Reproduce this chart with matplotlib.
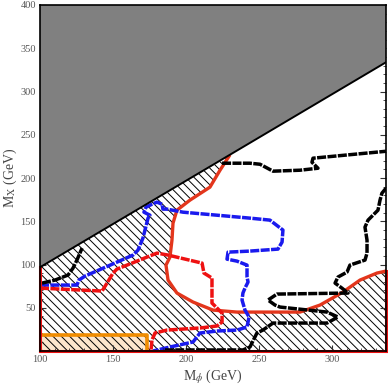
import matplotlib
matplotlib.use("Agg")
import matplotlib.pyplot as plt
from matplotlib.patches import Polygon
from matplotlib.ticker import MultipleLocator
import numpy as np

plt.rcParams['font.family'] = ['Liberation Serif', 'DejaVu Serif']
plt.rcParams['mathtext.fontset'] = 'stix'
plt.rcParams['hatch.linewidth'] = 0.7

# axis ranges
x_min, x_max = 100, 337
y_min, y_max = 0, 400
# kinematic boundary  M_X = M_phi - offset
boundary_offset = 3.2

# hatched (excluded) region upper boundary (red solid)
red_solid_x = [229.5, 223.3, 216.4, 202.7, 193.8, 191.1, 190.4, 189.0, 186.3, 187.7,
               193.8, 204.8, 218.5, 234.9, 278.1, 291.8, 307.5, 319.2, 330.8, 337.0]
red_solid_y = [225.2, 209.0, 189.4, 174.4, 162.8, 147.8, 128.2, 108.5, 99.3, 82.0,
               67.0, 56.6, 47.3, 45.0, 45.0, 53.1, 68.1, 82.0, 90.1, 92.4]

# blue dashed contour
blue_x = [100, 125.3, 126.7, 130.8, 146.6, 163.7, 167.1, 170.5, 174.0, 175.3, 171.2, 172.6,
          176.7, 180.1, 183.6, 184.2, 187.0, 197.9, 221.2, 243.8, 257.5, 266.4, 265.8, 263.0,
          243.8, 228.8, 228.1, 234.9, 241.8, 241.8, 242.5, 240.4, 239.0, 238.4, 240.4, 243.2,
          241.8, 234.9, 221.2, 209.6, 204.8, 189.0, 177.4]
blue_y = [76.2, 76.2, 82.0, 86.6, 98.2, 110.9, 116.6, 130.5, 153.6, 157.0, 160.5, 166.3,
          169.7, 172.1, 169.7, 164.0, 164.0, 160.5, 157.0, 153.6, 151.3, 139.8, 125.9, 117.8,
          115.5, 114.3, 106.2, 103.9, 99.3, 85.5, 79.7, 72.7, 67.0, 58.9, 47.3, 39.3,
          27.7, 24.2, 23.1, 20.8, 10.4, 4.6, 0.0]

# red dashed contour
red_dash_x = [100, 142.5, 145.9, 150.0, 152.7, 163.0, 180.1, 187.7, 211.0, 212.3, 217.8,
              217.8, 217.8, 224.7, 224.7, 221.2, 209.6, 187.0, 178.8, 176.7, 176.0]
red_dash_y = [72.7, 69.3, 78.5, 90.1, 94.7, 101.6, 113.2, 110.9, 101.6, 90.1, 84.3,
              70.4, 55.4, 43.9, 33.5, 28.9, 26.6, 24.2, 20.8, 12.7, 0.0]

# black dashed contours
black_a_x = [101.4, 110.3, 119.2, 122.6, 125.3, 128.8]
black_a_y = [78.5, 82.0, 87.8, 95.8, 105.1, 118.9]

black_b_x = [224.7, 243.8, 250.7, 259.6, 278.1, 290.4, 286.3, 287.0, 337.0]
black_b_y = [217.1, 217.1, 215.9, 207.9, 209.0, 211.3, 218.2, 222.9, 230.9]

black_c_x = [337.0, 334.2, 332.9, 331.5, 324.7, 322.6, 324.0, 324.0, 322.6, 312.3, 310.3,
             304.1, 302.1, 306.8, 311.0, 262.3, 256.2, 261.0, 264.4, 296.6, 304.1, 296.6,
             259.6, 252.7, 248.6, 243.8, 239.0, 184.2]
black_c_y = [188.2, 182.4, 174.4, 162.8, 151.3, 143.2, 128.2, 113.2, 105.1, 99.3, 91.2,
             85.5, 78.5, 72.7, 67.0, 65.8, 58.9, 53.1, 50.8, 45.0, 39.3, 32.3,
             32.3, 24.2, 20.8, 4.6, 1.2, 1.2]

# orange box
orange_x_max = 173.3
orange_y_max = 18.0

fig = plt.figure(figsize=(3.88, 3.86), dpi=100)
ax = fig.add_axes([40/388, 1-351/386, 346/388, 346/386])
ax.set_xlim(x_min, x_max)
ax.set_ylim(y_min, y_max)

# hatched region
hx = [x_min, x_min] + red_solid_x + [x_max]
hy = [y_min, x_min - boundary_offset] + red_solid_y + [y_min]
ax.add_patch(Polygon(np.column_stack([hx, hy]), closed=True, facecolor='none',
                     edgecolor='black', hatch='\\\\\\\\', linewidth=0, zorder=1))

# orange box
ax.fill([x_min, orange_x_max, orange_x_max, x_min], [0, 0, orange_y_max, orange_y_max],
        facecolor='#fde6cc', edgecolor='none', zorder=0.5)
ax.plot([x_min, orange_x_max, orange_x_max], [orange_y_max, orange_y_max, 0],
        color='#f08c00', lw=2.6, zorder=2, solid_capstyle='butt')

# gray kinematically forbidden region
gx = np.array([x_min, x_max])
gy = gx - boundary_offset
ax.fill([x_min, x_max, x_max, x_min], [gy[0], gy[1], y_max, y_max],
        facecolor='#808080', edgecolor='none', zorder=5)
ax.plot(gx, gy, color='black', lw=1.4, zorder=6)

# red edges of excluded region along axes
ax.plot([x_min, x_min], [0, x_min - boundary_offset], color='#ee1111', lw=2.2, zorder=4, clip_on=False)
ax.plot([x_min, x_max], [0, 0], color='#ee1111', lw=2.2, zorder=4, clip_on=False)
ax.plot([x_max, x_max], [0, red_solid_y[-1]], color='#ee1111', lw=2.2, zorder=4, clip_on=False)

ax.plot(red_solid_x, red_solid_y, color='#e3361c', lw=2.4, zorder=3)

dash = (2.6, 0.4)
ax.plot(blue_x, blue_y, color='#1a1aee', lw=2.5, dashes=dash, zorder=3)
ax.plot(red_dash_x, red_dash_y, color='#ee1111', lw=2.5, dashes=dash, zorder=3)
for bx, by in [(black_a_x, black_a_y), (black_b_x, black_b_y), (black_c_x, black_c_y)]:
    ax.plot(bx, by, color='black', lw=2.5, dashes=dash, zorder=3)

ax.xaxis.set_major_locator(MultipleLocator(50))
ax.xaxis.set_minor_locator(MultipleLocator(10))
ax.yaxis.set_major_locator(MultipleLocator(50))
ax.yaxis.set_minor_locator(MultipleLocator(10))
ax.tick_params(which='both', direction='in', top=True, right=True, colors='#333333',
               labelcolor='#555555', labelsize=7.5)
ax.tick_params(which='major', length=4, width=0.8)
ax.tick_params(which='minor', length=2, width=0.6)
ax.tick_params(axis='x', pad=3)
ax.tick_params(axis='y', pad=3)
ax.set_xticks([100, 150, 200, 250, 300])
ax.set_yticks([50, 100, 150, 200, 250, 300, 350, 400])
for s in ax.spines.values():
    s.set_linewidth(1.2)
    s.set_zorder(7)

ax.set_xlabel(r'M$_{\phi}$ (GeV)', fontsize=10, color='#444444')
ax.set_ylabel(r'M$_{\rm X}$ (GeV)', fontsize=10, color='#444444')
ax.xaxis.set_label_coords((213 - 40) / 346, (351 - 377) / 346)
ax.yaxis.set_label_coords((10 - 40) / 346, 0.5)
ax.xaxis.label.set_va('center')
ax.yaxis.label.set_va('center')

fig.savefig('out.png', dpi=100)
